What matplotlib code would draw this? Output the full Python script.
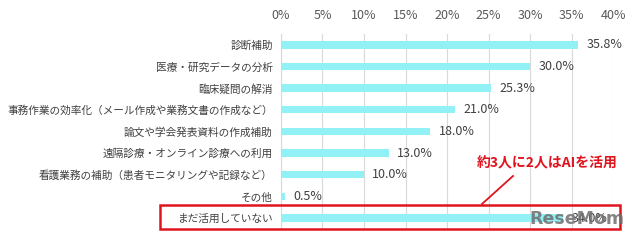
import matplotlib
matplotlib.use("Agg")
import matplotlib.pyplot as plt
from matplotlib.patches import Rectangle
from matplotlib.lines import Line2D

plt.rcParams['font.family'] = ['Noto Sans CJK JP', 'DejaVu Sans']

categories = [
    "診断補助",
    "医療・研究データの分析",
    "臨床疑問の解消",
    "事務作業の効率化（メール作成や業務文書の作成など）",
    "論文や学会発表資料の作成補助",
    "遠隔診療・オンライン診療への利用",
    "看護業務の補助（患者モニタリングや記録など）",
    "その他",
    "まだ活用していない",
]
values = [35.8, 30.0, 25.3, 21.0, 18.0, 13.0, 10.0, 0.5, 34.0]
xticks = [0, 5, 10, 15, 20, 25, 30, 35, 40]
xtick_labels = [f"{t}%" for t in xticks]
annotation = "約3人に2人はAIを活用"

fig = plt.figure(figsize=(6.4, 2.43), dpi=100)
ax = fig.add_axes([0.439, 0.058, 0.519, 0.802])

y = list(range(len(categories)))
ax.barh(y, values, height=0.34, color="#92F1F5", zorder=3)
ax.set_ylim(len(categories) - 0.5, -0.5)
ax.set_xlim(0, 40)
ax.set_xticks(xticks)
ax.set_xticklabels(xtick_labels)
ax.xaxis.tick_top()
ax.tick_params(axis='x', length=0, pad=9, labelsize=9, labelcolor="#595959")
ax.set_yticks(y)
ax.set_yticklabels(categories)
ax.tick_params(axis='y', length=0, pad=6, labelsize=7.7, labelcolor="#404040")
ax.grid(axis='x', color="#D9D9D9", linewidth=0.8, zorder=0)
for s in ["top", "right", "bottom"]:
    ax.spines[s].set_visible(False)
ax.spines["left"].set_color("#D9D9D9")
ax.spines["left"].set_linewidth(0.8)

for yi, v in zip(y, values):
    ax.text(v + 1.0, yi, f"{v:.1f}%", va="center", ha="left",
            fontsize=9, color="#404040", zorder=4)

# red box around last row
fig.patches.append(Rectangle((160 / 640, 1 - 229 / 243), (620 - 160) / 640, (229 - 205) / 243,
                             transform=fig.transFigure, fill=False,
                             edgecolor="#E0141E", linewidth=1.8, zorder=10))
fig.lines.append(Line2D([513 / 640, 482 / 640], [1 - 176 / 243, 1 - 204 / 243],
                        transform=fig.transFigure, color="#E0141E", linewidth=1.3))
fig.text(547 / 640, 1 - 163 / 243, annotation, ha="center", va="center",
         fontsize=10, fontweight="bold", color="#E0141E")

# watermark
fig.text(529 / 640, 1 - 219 / 243, "ReseMom", ha="left", va="center",
         fontsize=12.5, fontweight="bold", color="#6E6E6E", alpha=0.85,
         family=["DejaVu Sans"], zorder=20)

fig.savefig("out.png", dpi=100, facecolor="white")
